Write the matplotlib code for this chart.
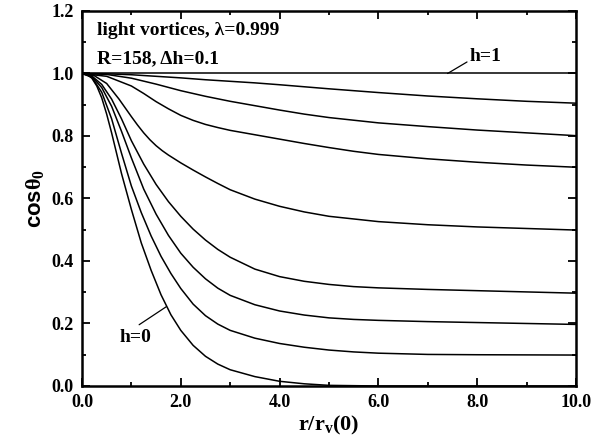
import matplotlib
matplotlib.use("Agg")
import matplotlib.pyplot as plt
from matplotlib.ticker import MultipleLocator, FormatStrFormatter

plt.rcParams['mathtext.fontset'] = 'custom'
plt.rcParams['mathtext.rm'] = 'Liberation Serif:bold'
plt.rcParams['mathtext.it'] = 'Liberation Serif:bold'
plt.rcParams['mathtext.bf'] = 'Liberation Serif:bold'

# ---- data ----
x_h00 = [0, 0.1, 0.2, 0.3, 0.4, 0.5, 0.6, 0.8, 1.0, 1.2, 1.4, 1.6, 1.8, 2.0, 2.25, 2.5, 2.75, 3.0, 3.5, 4.0, 4.5, 5.0, 6.0, 10.0]
y_h00 = [1.0, 0.997, 0.985, 0.96, 0.922, 0.87, 0.81, 0.68, 0.565, 0.458, 0.37, 0.292, 0.228, 0.178, 0.13, 0.095, 0.07, 0.052, 0.03, 0.015, 0.007, 0.002, 0.0, 0.0]

x_h01 = [0, 0.2, 0.4, 0.6, 0.8, 1.0, 1.2, 1.4, 1.6, 1.8, 2.0, 2.25, 2.5, 2.75, 3.0, 3.5, 4.0, 4.5, 5.0, 5.5, 6.0, 7.0, 8.0, 10.0]
y_h01 = [1.0, 0.988, 0.94, 0.855, 0.745, 0.64, 0.555, 0.48, 0.415, 0.36, 0.312, 0.262, 0.225, 0.198, 0.178, 0.153, 0.136, 0.124, 0.115, 0.109, 0.105, 0.101, 0.1, 0.099]

x_h02 = [0, 0.2, 0.4, 0.6, 0.8, 1.0, 1.25, 1.5, 1.75, 2.0, 2.25, 2.5, 2.75, 3.0, 3.5, 4.0, 4.5, 5.0, 5.5, 6.0, 7.0, 8.0, 10.0]
y_h02 = [1.0, 0.99, 0.955, 0.895, 0.815, 0.73, 0.63, 0.55, 0.482, 0.425, 0.38, 0.343, 0.313, 0.29, 0.26, 0.24, 0.227, 0.218, 0.213, 0.21, 0.206, 0.203, 0.197]

x_h03 = [0, 0.2, 0.4, 0.6, 0.8, 1.0, 1.25, 1.5, 1.75, 2.0, 2.25, 2.5, 2.75, 3.0, 3.5, 4.0, 4.5, 5.0, 5.5, 6.0, 7.0, 8.0, 9.0, 10.0]
y_h03 = [1.0, 0.992, 0.965, 0.918, 0.855, 0.785, 0.71, 0.645, 0.59, 0.543, 0.502, 0.467, 0.437, 0.412, 0.374, 0.35, 0.335, 0.325, 0.318, 0.314, 0.309, 0.305, 0.301, 0.297]

x_h05 = [0, 0.25, 0.5, 0.75, 1.0, 1.125, 1.25, 1.375, 1.5, 1.625, 1.75, 2.0, 2.25, 2.5, 2.75, 3.0, 3.5, 4.0, 4.5, 5.0, 6.0, 7.0, 8.0, 9.0, 10.0]
y_h05 = [1.0, 0.993, 0.968, 0.918, 0.862, 0.835, 0.81, 0.788, 0.769, 0.753, 0.739, 0.714, 0.691, 0.669, 0.648, 0.628, 0.598, 0.575, 0.557, 0.543, 0.526, 0.516, 0.509, 0.504, 0.499]

x_h07 = [0, 0.5, 1.0, 1.25, 1.5, 1.75, 2.0, 2.25, 2.5, 2.75, 3.0, 3.5, 4.0, 4.5, 5.0, 5.5, 6.0, 7.0, 8.0, 9.0, 10.0]
y_h07 = [1.0, 0.991, 0.96, 0.936, 0.91, 0.887, 0.866, 0.85, 0.837, 0.827, 0.818, 0.804, 0.79, 0.776, 0.763, 0.751, 0.741, 0.727, 0.716, 0.707, 0.70]

x_h08 = [0, 0.5, 1.0, 1.5, 2.0, 2.5, 3.0, 3.5, 4.0, 4.5, 5.0, 6.0, 7.0, 8.0, 9.0, 10.0]
y_h08 = [1.0, 0.997, 0.985, 0.966, 0.945, 0.927, 0.911, 0.897, 0.883, 0.87, 0.859, 0.842, 0.83, 0.819, 0.81, 0.801]

x_h09 = [0, 0.5, 1.0, 1.5, 2.0, 2.5, 3.0, 3.5, 4.0, 5.0, 6.0, 7.0, 8.0, 9.0, 10.0]
y_h09 = [1.0, 0.999, 0.996, 0.991, 0.986, 0.98, 0.975, 0.97, 0.964, 0.951, 0.939, 0.928, 0.919, 0.911, 0.905]

x_h10 = [0, 10.0]
y_h10 = [1.0, 1.0]

curves = [(x_h00, y_h00), (x_h01, y_h01), (x_h02, y_h02), (x_h03, y_h03),
          (x_h05, y_h05), (x_h07, y_h07), (x_h08, y_h08), (x_h09, y_h09),
          (x_h10, y_h10)]

fig = plt.figure(figsize=(6.09, 4.47), dpi=100)
ax = fig.add_axes([0.1346, 0.1365, 0.8112, 0.8389])

for xs, ys in curves:
    ax.plot(xs, ys, color='black', lw=1.1, solid_joinstyle='round')

ax.set_xlim(0, 10)
ax.set_ylim(0, 1.2)
ax.xaxis.set_major_locator(MultipleLocator(2))
ax.xaxis.set_minor_locator(MultipleLocator(1))
ax.yaxis.set_major_locator(MultipleLocator(0.2))
ax.yaxis.set_minor_locator(MultipleLocator(0.1))
ax.xaxis.set_major_formatter(FormatStrFormatter('%.1f'))
ax.yaxis.set_major_formatter(FormatStrFormatter('%.1f'))
ax.tick_params(which='both', direction='in', top=True, right=True, width=1.3)
ax.tick_params(which='major', length=6, labelsize=13, pad=6)
ax.tick_params(which='minor', length=3)
for lab in ax.get_xticklabels() + ax.get_yticklabels():
    lab.set_fontfamily('Liberation Serif')
    lab.set_fontweight('bold')
for sp in ax.spines.values():
    sp.set_linewidth(1.8)

ax.set_xlabel(r'r/r$_\mathrm{v}$(0)', fontsize=16, fontfamily='Liberation Serif',
              fontweight='bold', labelpad=2)
ax.set_ylabel(r'cos$\theta_0$', fontsize=16, fontfamily='Liberation Sans',
              fontweight='bold', labelpad=4)

ax.text(0.3, 1.139, 'light vortices, λ=0.999', fontsize=14,
        fontfamily='Liberation Serif', fontweight='bold', va='center', ha='left')
ax.text(0.3, 1.046, 'R=158, Δh=0.1', fontsize=14,
        fontfamily='Liberation Serif', fontweight='bold', va='center', ha='left')

ax.annotate('h=1', xy=(7.40, 1.0), xytext=(7.85, 1.053), fontsize=14,
            fontfamily='Liberation Serif', fontweight='bold', va='center', ha='left',
            arrowprops=dict(arrowstyle='-', lw=0.9, shrinkA=0, shrinkB=0, relpos=(0, 0.3)))
ax.annotate('h=0', xy=(1.71, 0.254), xytext=(1.09, 0.155), fontsize=14,
            fontfamily='Liberation Serif', fontweight='bold', va='center', ha='center',
            arrowprops=dict(arrowstyle='-', lw=0.9, shrinkA=2, shrinkB=0, relpos=(0.4, 1.0)))

fig.savefig('out.png', dpi=100)
